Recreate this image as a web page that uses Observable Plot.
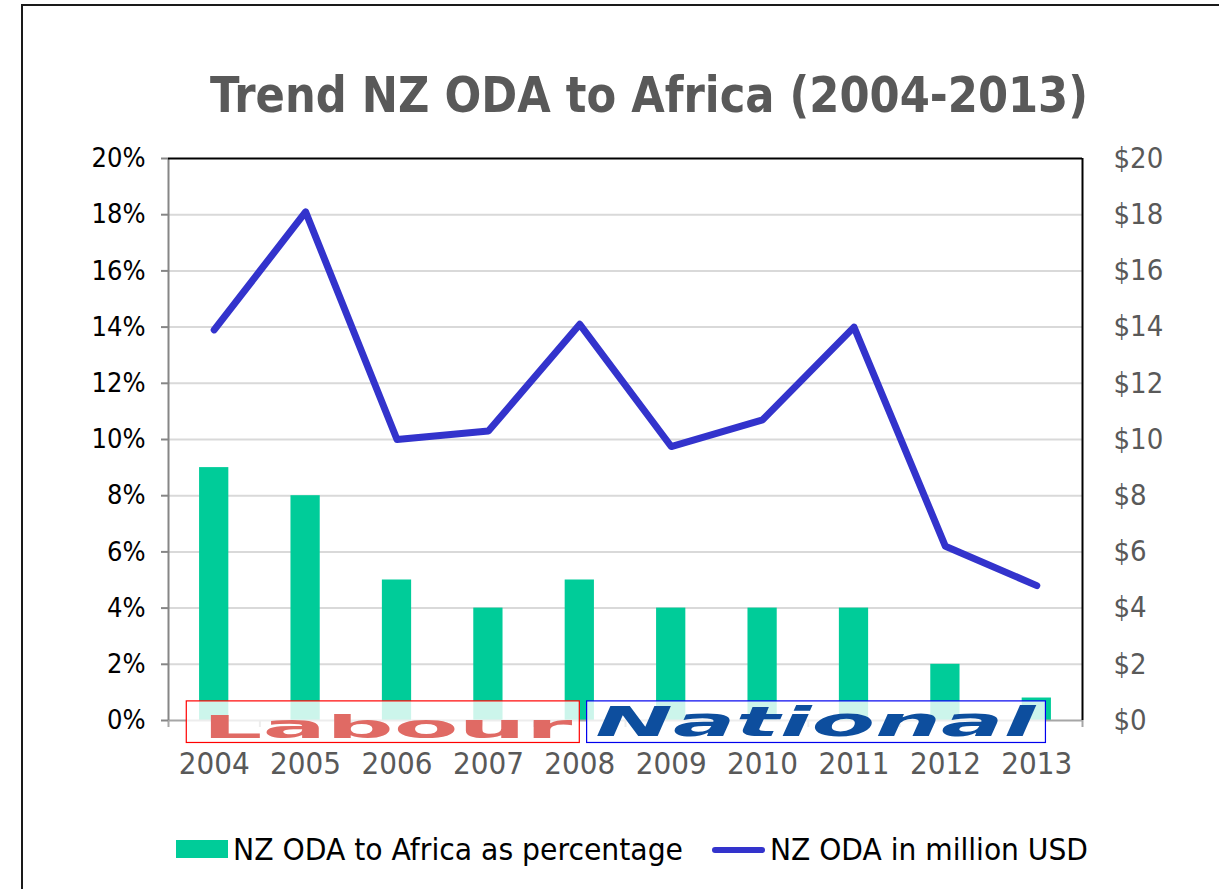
<!DOCTYPE html>
<html>
<head>
<meta charset="utf-8">
<script src="https://cdn.jsdelivr.net/npm/d3@7"></script>
<script src="https://cdn.jsdelivr.net/npm/@observablehq/plot@0.6"></script>
<style>
  body { margin: 0; background: #fff; }
  #wrap { position: relative; width: 1219px; height: 889px; overflow: hidden; background: #fff;
          font-family: "DejaVu Sans", sans-serif; font-stretch: condensed; }
  #frame { position: absolute; left: 21px; top: 4px; right: -10px; bottom: -10px; pointer-events: none;
           border-left: 2px solid #1a1a1a; border-top: 2px solid #1a1a1a; }
  #title { position: absolute; left: 210px; top: 70px; white-space: nowrap; font-weight: bold;
           color: #595959; font-size: 50px; line-height: 50px; transform-origin: left top; }
  #chart { position: absolute; left: 0; top: 140px; }
  #legend { position: absolute; left: 0; top: 830px; width: 1219px; height: 40px; }
  .lg { position: absolute; white-space: nowrap; font-size: 31px; line-height: 31px; color: #000; top: 4px;
        transform-origin: left top; }
</style>
</head>
<body>
<div id="wrap">
  <div id="title">Trend NZ ODA to Africa (2004-2013)</div>
  <div id="chart"></div>
  <div id="legend">
    <div style="position:absolute;left:176px;top:10px;width:52px;height:18px;background:#00cc99"></div>
    <div class="lg" id="lg1" style="left:233px">NZ ODA to Africa as percentage</div>
    <div style="position:absolute;left:712px;top:17px;width:53px;height:6px;border-radius:3px;background:#3333cc"></div>
    <div class="lg" id="lg2" style="left:770px">NZ ODA in million USD</div>
  </div>
  <div id="frame"></div>
</div>
<script>
// ---- data ----
const years = [2004, 2005, 2006, 2007, 2008, 2009, 2010, 2011, 2012, 2013];
const pctToAfrica = [9, 8, 5, 4, 5, 4, 4, 4, 2, 0.8];          // NZ ODA to Africa as percentage
const odaMillionUSD = [13.9, 18.1, 10.0, 10.3, 14.1, 9.75, 10.7, 14.0, 6.2, 4.8]; // NZ ODA in million USD
const yTicks = [0, 2, 4, 6, 8, 10, 12, 14, 16, 18, 20];
const parties = ["Labour", "National"];
const partyFrom = [2004, 2008];
const partyTo = [2008, 2013];

// ---- tables ----
const rows = years.map((y, i) => ({year: y, pct: pctToAfrica[i], usd: odaMillionUSD[i]}));
const eras = parties.map((p, i) => ({party: p, from: partyFrom[i], to: partyTo[i]}));
const xDomain = [years[0] - 0.5, years[years.length - 1] + 0.5];
const bounds = years.map(y => y - 0.5).concat([xDomain[1]]);

const eraStyle = {
  Labour:   {x1: -0.3, x2: 0.0, tx: -0.13, ty: 0.18, stroke: "#ff0000", fill: "#e06a64", size: 32, style: "normal", len: 370},
  National: {x1: 0.08, x2: 0.1, tx: 0.17,  ty: 0.46, stroke: "#0000ee", fill: "#0d4e9e", size: 40, style: "italic", len: 440}
};

const font = '"DejaVu Sans", sans-serif';

const chart = Plot.plot({
  width: 1219,
  height: 650,
  marginLeft: 168,
  marginRight: 137,
  marginTop: 18,
  marginBottom: 70,
  style: {fontFamily: font, fontStretch: "condensed", background: "transparent"},
  x: {type: "linear", domain: xDomain, axis: null},
  y: {domain: [0, 20], axis: null},
  marks: [
    Plot.ruleY(yTicks.slice(1, -1), {stroke: "#d9d9d9", strokeWidth: 2}),
    Plot.rectY(rows, {x1: d => d.year - 0.16, x2: d => d.year + 0.16, y1: 0, y2: "pct", fill: "#00cc99"}),
    Plot.ruleY([0], {stroke: "#a6a6a6", strokeWidth: 2}),
    // bottom axis: boundary ticks and year labels
    Plot.axisX({ticks: bounds, tickFormat: () => "", tickSize: 7, stroke: "#a6a6a6", strokeWidth: 2, label: null}),
    Plot.axisX({ticks: years, tickFormat: d => String(d), tickSize: 0, tickPadding: 31, label: null,
                fontSize: 31, fill: "#595959"}),
    // left axis
    Plot.ruleX([xDomain[0]], {stroke: "#868686", strokeWidth: 2}),
    Plot.axisY({anchor: "left", ticks: yTicks, tickFormat: d => d + "%", tickSize: 7, tickPadding: 16, label: null,
                stroke: "#868686", strokeWidth: 2, fill: "#000", fontSize: 27}),
    // right axis
    Plot.axisY({anchor: "right", ticks: yTicks, tickFormat: d => "$" + d, tickSize: 0, tickPadding: 31, label: null,
                fill: "#595959", fontSize: 29}),
    // top / right border of plot area
    Plot.ruleY([20], {stroke: "#000", strokeWidth: 2}),
    Plot.ruleX([xDomain[1]], {stroke: "#000", strokeWidth: 2}),
    // line series (right axis, same numeric scale: $20 == 20%)
    Plot.lineY(rows, {x: "year", y: "usd", stroke: "#3333cc", strokeWidth: 7,
                      strokeLinecap: "round", strokeLinejoin: "round"}),
    // party logos
    Plot.rect(eras, {x1: d => d.from + eraStyle[d.party].x1, x2: d => d.to + eraStyle[d.party].x2,
                     y1: -0.8, y2: 0.68, fill: "#fff", fillOpacity: 0.8,
                     stroke: d => eraStyle[d.party].stroke, strokeWidth: 1.2,
                     ariaDescription: "logo-box"}),
    Plot.text(eras, {x: d => d.from + eraStyle[d.party].tx, y: d => eraStyle[d.party].ty,
                     text: "party", textAnchor: "start", lineAnchor: "top",
                     fill: d => eraStyle[d.party].fill, fontWeight: "bold",
                     fontSize: 40, fontFamily: '"DejaVu Sans", sans-serif',
                     ariaDescription: "logo-text"})
  ]
});
document.getElementById("chart").appendChild(chart);

// logo text styling + clipping to the boxes
const svg = d3.select(chart);
const boxes = svg.selectAll('g[aria-description="logo-box"] rect').nodes();
const cp = svg.append("defs").append("clipPath").attr("id", "logoClip");
boxes.forEach(b => {
  cp.append("rect").attr("x", b.getAttribute("x")).attr("y", b.getAttribute("y"))
    .attr("width", b.getAttribute("width")).attr("height", b.getAttribute("height"));
});
const tg = svg.select('g[aria-description="logo-text"]');
tg.attr("clip-path", "url(#logoClip)");
tg.selectAll("text").each(function(d, i) {
  const st = eraStyle[parties[i]];
  d3.select(this).attr("textLength", st.len).attr("lengthAdjust", "spacingAndGlyphs")
    .style("font-size", st.size + "px").style("font-style", st.style).style("font-stretch", "normal");
});

// fit title / legend text widths to the reference
function fit(id, target) {
  const el = document.getElementById(id);
  const w = el.getBoundingClientRect().width;
  el.style.transform = `scaleX(${target / w})`;
}
fit("title", 878);
fit("lg1", 450);
fit("lg2", 318);
</script>
</body>
</html>
